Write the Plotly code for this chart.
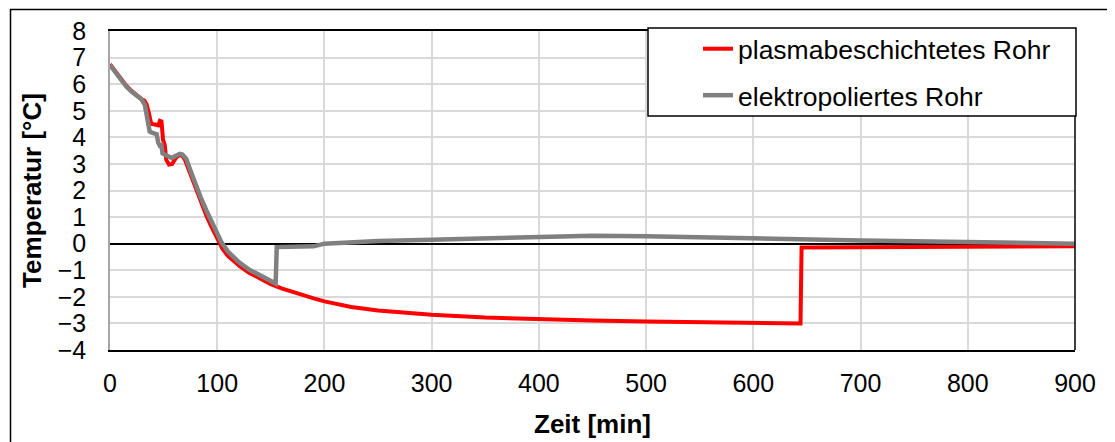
import plotly.graph_objects as go

# ---- data ----
x_plasma = [0, 5, 10, 15, 20, 25, 30, 32, 34, 36, 37, 38.5, 42, 45, 46.5, 48, 49.5, 51, 52.5, 55,
            58, 61, 64, 67, 70, 75, 80, 85, 90, 95, 100, 105, 110, 115, 121, 130, 140, 150, 160,
            175, 190, 200, 225, 250, 275, 300, 350, 400, 450, 500, 550, 600, 644, 645, 700, 800, 900]
y_plasma = [6.75, 6.47, 6.2, 5.95, 5.75, 5.57, 5.42, 5.38, 5.25, 4.95, 4.7, 4.5, 4.48, 4.45, 4.62, 4.6,
            3.9, 3.72, 3.15, 2.98, 3.0, 3.2, 3.32, 3.32, 3.15, 2.6, 2.05, 1.52, 1.04, 0.6, 0.16, -0.2,
            -0.46, -0.66, -0.85, -1.1, -1.33, -1.52, -1.68, -1.88, -2.06, -2.17, -2.38, -2.51, -2.6,
            -2.67, -2.78, -2.85, -2.89, -2.93, -2.96, -2.98, -3.0, -0.14, -0.13, -0.12, -0.1]

x_elektro = [0, 5, 10, 15, 20, 25, 29.5, 32.5, 34, 35.5, 37, 39, 43.5, 45, 46.5, 48, 49, 51, 54, 57.5,
             62, 65, 67.5, 71, 76, 80, 85, 90, 95, 100, 104, 110, 115, 121, 130, 140, 150, 154.5, 155.5,
             170, 190, 200, 225, 250, 300, 350, 400, 450, 500, 550, 600, 650, 700, 750, 800, 850, 900]
y_elektro = [6.72, 6.43, 6.17, 5.92, 5.72, 5.55, 5.42, 5.22, 4.8, 4.5, 4.22, 4.18, 4.12, 3.8, 3.68, 3.7,
             3.4, 3.35, 3.3, 3.22, 3.32, 3.38, 3.35, 3.2, 2.65, 2.2, 1.7, 1.24, 0.82, 0.4, 0.05, -0.3,
             -0.5, -0.72, -0.98, -1.2, -1.4, -1.5, -0.13, -0.12, -0.1, 0.0, 0.06, 0.1, 0.15, 0.2, 0.27,
             0.3, 0.28, 0.23, 0.18, 0.15, 0.12, 0.09, 0.06, 0.03, 0.0]

series_names = ["plasmabeschichtetes Rohr", "elektropoliertes Rohr"]
x_ticks = [0, 100, 200, 300, 400, 500, 600, 700, 800, 900]
y_ticks = [-4, -3, -2, -1, 0, 1, 2, 3, 4, 5, 6, 7, 8]

FONT = "Liberation Sans, Arial, sans-serif"
FS = 25

fig = go.Figure()
fig.add_trace(go.Scatter(x=x_plasma, y=y_plasma, mode="lines", name=series_names[0],
                         line=dict(color="#ff0000", width=4), legendgroup="a"))
fig.add_trace(go.Scatter(x=x_elektro, y=y_elektro, mode="lines", name=series_names[1],
                         line=dict(color="#808080", width=4.5), legendgroup="b"))

# page has an 8px body margin; figure is placed at (8, 8) of the window
OFF = 8
W, H = 1115 - OFF, 442 - OFF
# plot area in window pixels: x 110..1075, y 31..350
L, R, T, B = 110 - OFF, W - (1075 - OFF), 31 - OFF, H - (350 - OFF)
pw, ph = W - L - R, H - T - B

def px(xs):  # window x -> paper
    return (xs - OFF - L) / pw

def py(ys):  # window y -> paper
    return (H - B - (ys - OFF)) / ph

fig.update_layout(
    width=W, height=H,
    margin=dict(l=L, r=R, t=T, b=B, autoexpand=False),
    paper_bgcolor="white", plot_bgcolor="white",
    font=dict(family=FONT, size=FS, color="black"),
    showlegend=True,
    legend=dict(x=px(698), y=py(25), xanchor="left", yanchor="top",
                bgcolor="rgba(0,0,0,0)", borderwidth=0,
                font=dict(size=26.5), tracegroupgap=9, traceorder="grouped"),
    xaxis=dict(range=[0, 900], tickvals=x_ticks, showgrid=True, gridcolor="#d9d9d9", gridwidth=1.5,
               zeroline=False, showline=True, linecolor="black", linewidth=1.5, mirror=True,
               ticks="outside", ticklen=10, tickcolor="rgba(0,0,0,0)", automargin=False,
               tickfont=dict(size=FS),
               title=dict(text="<b>Zeit [min]</b>", font=dict(size=26), standoff=19)),
    yaxis=dict(range=[-4, 8], tickvals=y_ticks, showgrid=True, gridcolor="#d9d9d9", gridwidth=1.5,
               zeroline=True, zerolinecolor="black", zerolinewidth=2,
               showline=True, linecolor="#a6a6a6", linewidth=1.5, mirror=False,
               ticks="outside", ticklen=17, tickcolor="rgba(0,0,0,0)", automargin=False,
               tickfont=dict(size=FS),
               title=dict(text="<b>Temperatur [°C]</b>", font=dict(size=26), standoff=9)),
    shapes=[
        # outer chart frame
        dict(type="rect", xref="paper", yref="paper", x0=px(10.5), x1=px(1120), y0=py(446), y1=py(9.5),
             line=dict(color="black", width=1.5), fillcolor="rgba(0,0,0,0)", layer="below"),
        # right plot border
        dict(type="line", xref="paper", yref="paper", x0=1, x1=1, y0=0, y1=1,
             line=dict(color="black", width=1.5), layer="above"),
        # legend box
        dict(type="rect", xref="paper", yref="paper", x0=px(648), x1=px(1076), y0=py(116), y1=py(28),
             line=dict(color="black", width=1.5), fillcolor="white", layer="above"),
    ],
)

fig.write_html("out.html")
